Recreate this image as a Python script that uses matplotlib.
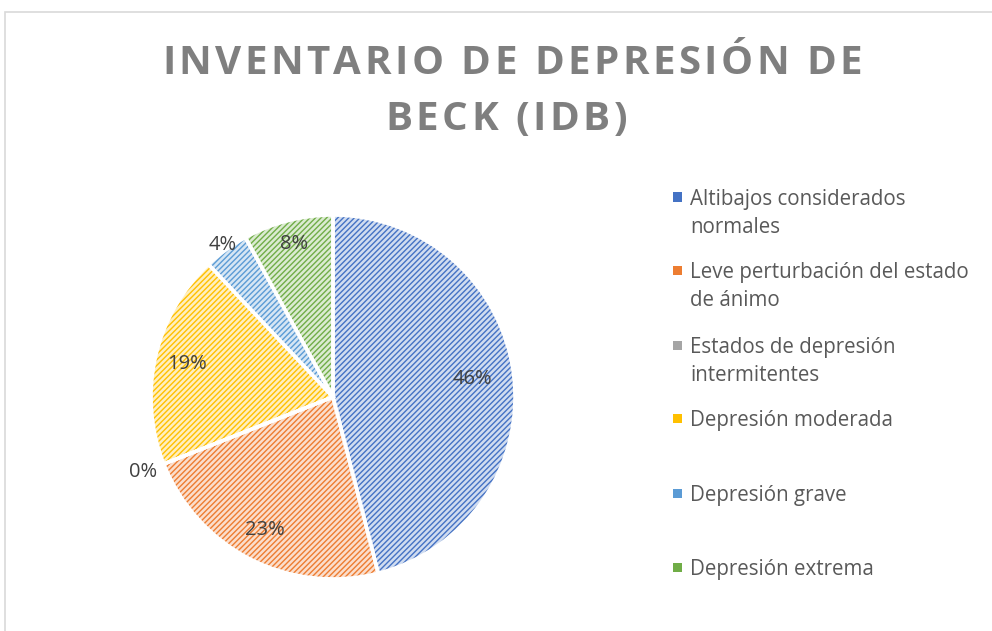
import numpy as np
import matplotlib
matplotlib.use("Agg")
from matplotlib import pyplot as plt
from matplotlib.patches import Rectangle
from matplotlib import colors as mcolors

# datos
categorias = ["Altibajos considerados\nnormales",
              "Leve perturbación del estado\nde ánimo",
              "Estados de depresión\nintermitentes",
              "Depresión moderada",
              "Depresión grave",
              "Depresión extrema"]
porcentajes = [46, 23, 0, 19, 4, 8]
colores = ["#4472C4", "#ED7D31", "#A5A5A5", "#FFC000", "#5B9BD5", "#70AD47"]
# distancia de cada etiqueta al centro (radio = 1)
dist_etiquetas = [0.77, 0.82, 1.12, 0.82, 1.03, 0.87]
titulo = ["INVENTARIO DE DEPRESIÓN DE", "BECK (IDB)"]

plt.rcParams['font.family'] = ['Open Sans', 'DejaVu Sans']
plt.rcParams['hatch.linewidth'] = 1.0

fig = plt.figure(figsize=(9.92, 6.31), dpi=100)
W, H = 992, 631
renderer = fig.canvas.get_renderer()

# marco del gráfico
fig.patches.append(Rectangle((5/W, -0.1), 1.2, 1 - 12/H + 0.1, transform=fig.transFigure,
                             facecolor="none", edgecolor="#D9D9D9", linewidth=1.2))


# titulo con espaciado entre letras (ancho total fijo)
def texto_espaciado(linea, xc, y, ancho, **kw):
    def medir(s):
        t = fig.text(0, 0, s, **kw)
        w = t.get_window_extent(renderer).width
        t.remove()
        return w
    w_esp = medir("I I") - medir("II")
    anchos = [medir(ch) if ch != " " else w_esp for ch in linea]
    extra = (ancho - sum(anchos)) / (len(linea) - 1)
    x = xc - ancho / 2
    for ch, a in zip(linea, anchos):
        fig.text(x / W, 1 - y / H, ch, ha="left", va="center", **kw)
        x += a + extra


estilo_titulo = dict(fontsize=29, fontweight="bold", color="#7F7F7F")
texto_espaciado(titulo[0], 512, 63, 700, **estilo_titulo)
texto_espaciado(titulo[1], 506, 119, 242, **estilo_titulo)

ax = fig.add_axes([(333 - 182)/W, (H - 397 - 182)/H, 364/W, 364/H])
claros = [mcolors.to_hex(0.75 * np.array([1, 1, 1]) + 0.25 * np.array(mcolors.to_rgb(c))) for c in colores]
wedges, _ = ax.pie(porcentajes, colors=claros, startangle=90, counterclock=False,
                   wedgeprops=dict(linewidth=0), radius=1)
for w, c in zip(wedges, colores):
    w.set_hatch("//////")
    w.set_edgecolor(c)
    w.set_linewidth(0)
# bordes blancos
ax.pie(porcentajes, colors=["none"] * 6, startangle=90, counterclock=False,
       wedgeprops=dict(linewidth=2.6, edgecolor="white"), radius=1)
ax.set_xlim(-1.0, 1.0)
ax.set_ylim(-1.0, 1.0)
ax.set_aspect("equal")

for w, p, d in zip(wedges, porcentajes, dist_etiquetas):
    ang = np.deg2rad((w.theta1 + w.theta2) / 2)
    ax.text(d * np.cos(ang), d * np.sin(ang), "{}%".format(p), ha="center", va="center",
            fontsize=14.5, color="#404040")

# leyenda
y_leyenda = [197, 270, 345, 418, 493, 567]
for lab, c, y in zip(categorias, colores, y_leyenda):
    fig.patches.append(Rectangle((673/W, 1 - (y + 4.5)/H), 9/W, 9/H, transform=fig.transFigure,
                                 facecolor=c, edgecolor="none"))
    fig.text(690/W, 1 - (y - 8)/H, lab, ha="left", va="top", fontsize=14.8,
             color="#595959", linespacing=1.45)

plt.savefig("out.png", dpi=100)
